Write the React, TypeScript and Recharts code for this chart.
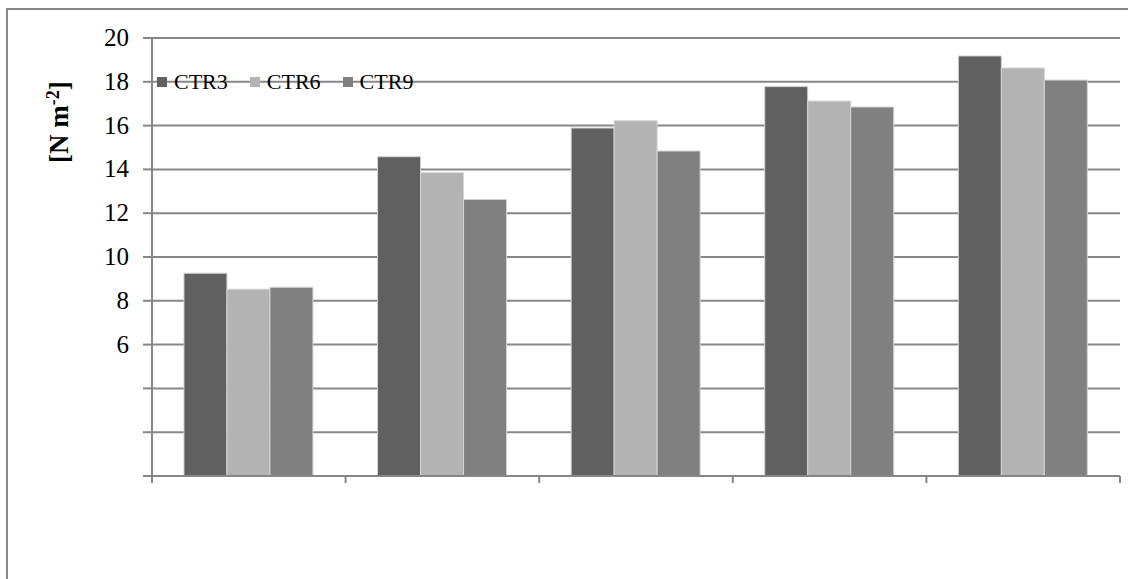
import React from "react";
import { BarChart, Bar, XAxis, YAxis, CartesianGrid, Legend } from "recharts";

const categories = ["G1", "G2", "G3", "G4", "G5"];
const ctr3 = [9.26, 14.58, 15.89, 17.78, 19.18];
const ctr6 = [8.53, 13.85, 16.22, 17.12, 18.63];
const ctr9 = [8.62, 12.63, 14.84, 16.85, 18.08];
const yTicks = [0, 2, 4, 6, 8, 10, 12, 14, 16, 18, 20];

const seriesInfo = [
  { key: "CTR3", color: "#606060" },
  { key: "CTR6", color: "#b3b3b3" },
  { key: "CTR9", color: "#808080" },
];

const data = categories.map((c, i) => ({
  name: c,
  CTR3: ctr3[i],
  CTR6: ctr6[i],
  CTR9: ctr9[i],
}));

const FONT = "Liberation Serif, DejaVu Serif, serif";
const GRID = "#878787";

const LegendContent = () => (
  <div style={{ display: "flex", fontFamily: FONT, fontSize: 22, color: "#000", lineHeight: "22px" }}>
    {seriesInfo.map((s) => (
      <div key={s.key} style={{ display: "flex", alignItems: "center", marginRight: 22 }}>
        <span style={{ display: "inline-block", width: 10, height: 10, background: s.color, marginRight: 7 }} />
        <span>{s.key}</span>
      </div>
    ))}
  </div>
);

const YLabel = () => (
  <text
    x={68}
    y={122}
    transform="rotate(-90, 68, 122)"
    textAnchor="middle"
    fontFamily={FONT}
    fontWeight="bold"
    fontSize={27}
    fill="#000"
  >
    [N m<tspan dy={-9} fontSize={18}>-2</tspan>
    <tspan dy={9}>]</tspan>
  </text>
);

const YTick = (props: any) => {
  const { x, y, payload } = props;
  const v = payload.value as number;
  if (v < 6) return <g />;
  return (
    <text x={x} y={y} dy={8} textAnchor="end" fontFamily={FONT} fontSize={25} fill="#000">
      {String(v)}
    </text>
  );
};

const EdgeTick = (props: any) => {
  const { x, y, payload, index, visibleTicksCount } = props;
  const off = payload && payload.offset ? payload.offset : 0;
  const left = x - off;
  const right = x + off;
  const isLast = index === visibleTicksCount - 1;
  return (
    <g>
      <line x1={left} x2={left} y1={y} y2={y + 7} stroke={GRID} strokeWidth={2} />
      {isLast && <line x1={right} x2={right} y1={y} y2={y + 7} stroke={GRID} strokeWidth={2} />}
    </g>
  );
};

export default function App() {
  return (
    <div style={{ position: "absolute", left: 0, top: 0, width: 1128, height: 579, overflow: "hidden", background: "#fff" }}>
      <div
        style={{
          position: "absolute",
          left: 6,
          top: 8,
          width: 1140,
          height: 620,
          border: "2px solid #888",
          boxSizing: "border-box",
        }}
      />
      <div style={{ position: "absolute", left: 0, top: 0 }}>
        <BarChart
          width={1128}
          height={579}
          data={data}
          margin={{ top: 38, right: 8, bottom: 73, left: 62 }}
          barCategoryGap="16.5%"
          barGap={0}
        >
          <CartesianGrid vertical={false} stroke={GRID} strokeWidth={2} />
          <XAxis
            dataKey="name"
            height={30}
            interval={0}
            tickSize={0}
            tickMargin={0}
            tickLine={false}
            tick={<EdgeTick />}
            axisLine={{ stroke: GRID, strokeWidth: 2 }}
          />
          <YAxis
            domain={[0, 20]}
            ticks={yTicks}
            interval={0}
            width={90}
            tickSize={9}
            tickMargin={14}
            tick={<YTick />}
            axisLine={{ stroke: GRID, strokeWidth: 2 }}
            tickLine={{ stroke: GRID, strokeWidth: 2 }}
            label={{ content: () => <YLabel /> }}
          />
          <Legend
            verticalAlign="middle"
            align="center"
            layout="horizontal"
            content={() => <LegendContent />}
            wrapperStyle={{ position: "absolute", top: 71, left: 157, width: 400 }}
          />
          {seriesInfo.map((s) => (
            <Bar
              key={s.key}
              dataKey={s.key}
              fill={s.color}
              stroke="#d4d4d4"
              strokeWidth={1}
              isAnimationActive={false}
            />
          ))}
        </BarChart>
      </div>
    </div>
  );
}
